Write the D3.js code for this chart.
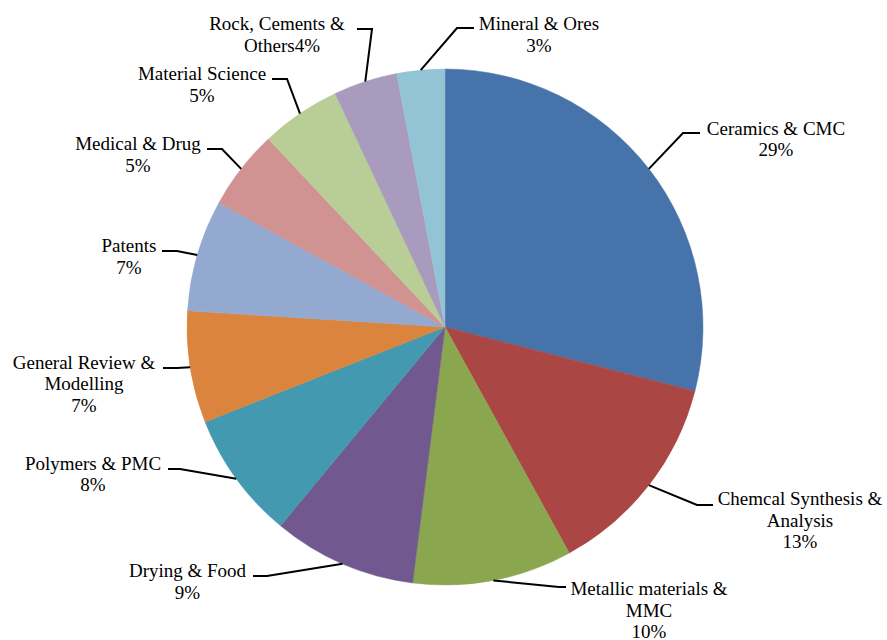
<!DOCTYPE html>
<html>
<head>
<meta charset="utf-8">
<script src="https://cdn.jsdelivr.net/npm/d3@7/dist/d3.min.js"></script>
</head>
<body style="margin:0;padding:0;background:#fff">
<svg id="chart" width="887" height="640" style="display:block"></svg>
<script>
// Share of publications by application field (%)
const categories = [
  "Ceramics & CMC",
  "Chemcal Synthesis & Analysis",
  "Metallic materials & MMC",
  "Drying & Food",
  "Polymers & PMC",
  "General Review & Modelling",
  "Patents",
  "Medical & Drug",
  "Material Science",
  "Rock, Cements & Others",
  "Mineral & Ores"
];
const shares = [29, 13, 10, 9, 8, 7, 7, 5, 5, 4, 3];

// Caption text, one entry per line
const captionLines = [
  ["Ceramics & CMC", "29%"],
  ["Chemcal Synthesis &", "Analysis", "13%"],
  ["Metallic materials &", "MMC", "10%"],
  ["Drying & Food", "9%"],
  ["Polymers & PMC", "8%"],
  ["General Review &", "Modelling", "7%"],
  ["Patents", "7%"],
  ["Medical & Drug", "5%"],
  ["Material Science", "5%"],
  ["Rock, Cements &", "Others4%"],
  ["Mineral & Ores", "3%"]
];

const colors = [
  "#4673a9", "#aa4744", "#8aa64f", "#71598f", "#4299b0", "#db843d",
  "#93a9cf", "#d19392", "#b9cd97", "#a99bbd", "#93c4d5"
];

// Caption placement: text centre x, first baseline y, elbow and hook end of leader
const captionLayout = [
  { x: 776, y: 134.5, elbow: [683, 133], hook: [700, 133] },
  { x: 800, y: 505,   elbow: [697, 505], hook: [713, 505] },
  { x: 649, y: 595,   elbow: [559, 587], hook: [566, 587] },
  { x: 187.5, y: 577, elbow: [267, 576], hook: [253, 576] },
  { x: 93,  y: 469.5, elbow: [180, 469], hook: [168, 469] },
  { x: 84,  y: 368.5, elbow: [177, 368], hook: [163, 368] },
  { x: 129, y: 252,   elbow: [177, 251], hook: [162, 251] },
  { x: 138, y: 150,   elbow: [222, 149], hook: [207, 149] },
  { x: 202, y: 80,    elbow: [287, 79],  hook: [272, 79] },
  { x: 278, y: 30,    elbow: [372, 29],  hook: [357, 29], lineDx: [-1, 4] },
  { x: 539, y: 30,    elbow: [457, 28],  hook: [474, 28] }
];

const lineHeight = 21.7;
const cx = 445, cy = 327, radius = 258;

const svg = d3.select("#chart");
const g = svg.append("g").attr("transform", `translate(${cx},${cy})`);

const pie = d3.pie().sort(null).value(d => d.value);
const arcs = pie(categories.map((c, i) => ({ name: c, value: shares[i], idx: i })));

const arc = d3.arc().innerRadius(0).outerRadius(radius);
const edgeArc = d3.arc().innerRadius(radius).outerRadius(radius);

g.selectAll("path")
  .data(arcs)
  .join("path")
  .attr("d", arc)
  .attr("fill", d => colors[d.data.idx])
  .attr("stroke", d => colors[d.data.idx])
  .attr("stroke-width", 0.5);

// Leader lines from the slice edge to the caption
const lineGen = d3.line();
svg.append("g")
  .selectAll("path")
  .data(arcs)
  .join("path")
  .attr("fill", "none")
  .attr("stroke", "#000")
  .attr("stroke-width", 2)
  .attr("d", d => {
    const L = captionLayout[d.data.idx];
    const p = edgeArc.centroid(d);
    return lineGen([[p[0] + cx, p[1] + cy], L.elbow, L.hook]);
  });

// Captions, one text element per line
const captionRows = arcs.flatMap(d => {
  const L = captionLayout[d.data.idx];
  return captionLines[d.data.idx].map((t, i) => ({
    text: t,
    x: L.x + (L.lineDx ? L.lineDx[i] : 0),
    y: L.y + i * lineHeight
  }));
});

svg.append("g")
  .attr("font-family", "Liberation Serif, Times New Roman, serif")
  .selectAll("text")
  .data(captionRows)
  .join("text")
  .attr("x", d => d.x)
  .attr("y", d => d.y)
  .attr("text-anchor", "middle")
  .attr("font-family", "Liberation Serif, Times New Roman, serif")
  .style("font", "normal 400 19px 'Liberation Serif', 'Times New Roman', serif")
  .text(d => d.text);
</script>
</body>
</html>
